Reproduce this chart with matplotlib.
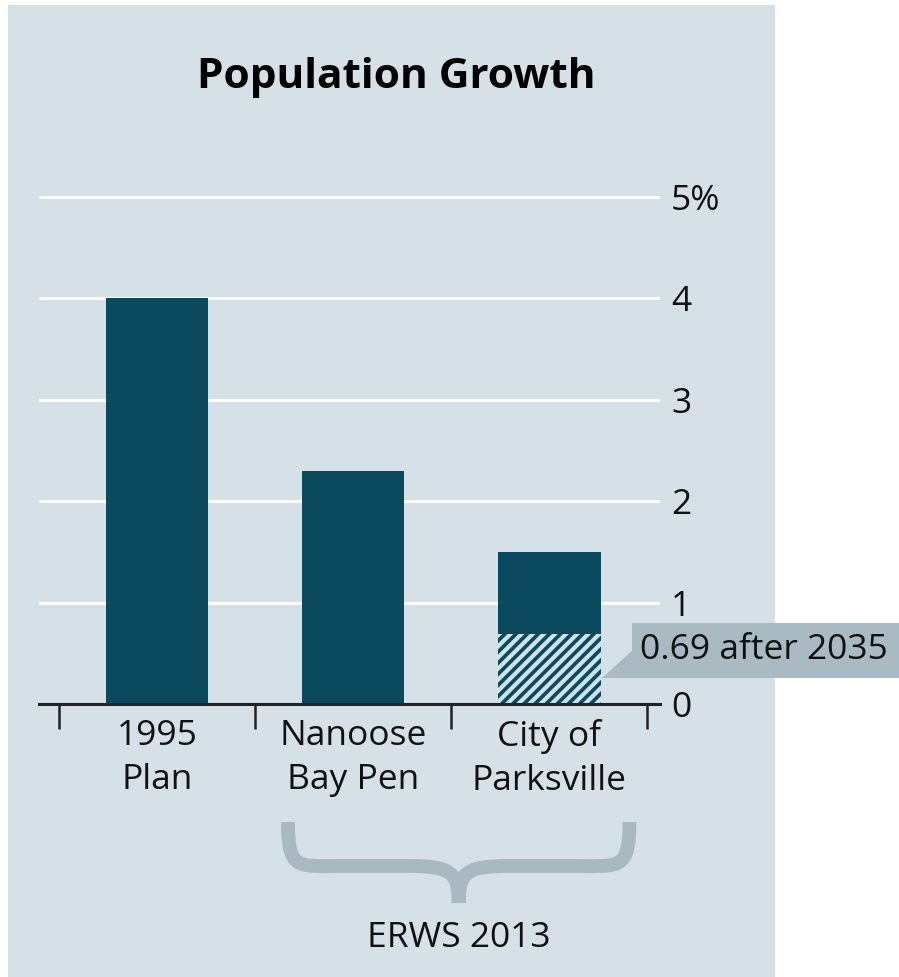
import matplotlib
matplotlib.use("Agg")
import matplotlib.pyplot as plt
from matplotlib.patches import Rectangle, Polygon, PathPatch
from matplotlib.path import Path
from matplotlib.transforms import blended_transform_factory

plt.rcParams['font.family'] = ['Open Sans', 'DejaVu Sans']
plt.rcParams['hatch.linewidth'] = 3.0

# data
categories = ["1995\nPlan", "Nanoose\nBay Pen", "City of\nParksville"]
growth = [4.0, 2.3, 1.5]
after_2035 = [0, 0, 0.69]
y_ticks = [0, 1, 2, 3, 4, 5]
y_labels = ["0", "1", "2", "3", "4", "5%"]
note = "0.69 after 2035"
group_label = "ERWS 2013"

panel = "#d6e1e7"
bar_col = "#0b4a5e"
hatch_col = "#cfe3ec"
brace_col = "#a8b9c2"
txt = "#111111"

W, H = 899, 977
fig = plt.figure(figsize=(W / 100, H / 100), dpi=100)
fig.patch.set_facecolor("white")
fig.patches.append(Rectangle((8 / W, 0), (775 - 8) / W, (H - 5) / H,
                             transform=fig.transFigure, facecolor=panel,
                             edgecolor="none", zorder=-5))

ax = fig.add_axes([39 / W, (H - 704) / H, 621 / W, 512 / H])
ax.set_facecolor("none")
x = list(range(len(categories)))
ax.set_xlim(-0.602, 2.566)
ax.set_ylim(0, 5.05)

# grid
for yv in y_ticks[1:]:
    ax.axhline(yv, color="white", lw=2.2, zorder=1)

solid = [g - a for g, a in zip(growth, after_2035)]
ax.bar(x, solid, bottom=after_2035, width=0.525, color=bar_col, zorder=2)
ax.bar(x, after_2035, width=0.525, facecolor=bar_col, edgecolor=hatch_col,
       hatch="///", linewidth=0, zorder=2)

for s in ["top", "left", "right"]:
    ax.spines[s].set_visible(False)
ax.spines["bottom"].set_linewidth(2.2)
ax.spines["bottom"].set_color("#222222")

ax.set_xticks(x)
ax.set_xticklabels(categories, fontsize=25.5, color=txt, linespacing=1.38)
ax.tick_params(axis="x", which="major", length=0, pad=11)
ax.set_xticks([i - 0.5 for i in range(len(categories) + 1)], minor=True)
ax.tick_params(axis="x", which="minor", length=18, width=1.8, color="#222222",
               direction="out")

ax.yaxis.tick_right()
ax.set_yticks(y_ticks)
ax.set_yticklabels(y_labels, fontsize=25.5, color=txt)
ax.tick_params(axis="y", length=0, pad=8)

fig.text(396 / W, 1 - 78 / H, "Population Growth", fontsize=30.5,
         fontweight="bold", ha="center", va="center", color="black")

# callout
fig.patches.append(Rectangle((632 / W, 1 - 678 / H), (W - 632) / W, 55 / H,
                             transform=fig.transFigure, facecolor="#aabac3",
                             edgecolor="none", zorder=3))
fig.patches.append(Polygon([(633 / W, 1 - 650 / H), (602 / W, 1 - 678 / H),
                            (633 / W, 1 - 678 / H)], closed=True,
                           transform=fig.transFigure, facecolor="#aabac3",
                           edgecolor="none", zorder=3))
fig.text(640 / W, 1 - 650 / H, note, fontsize=25.5, color=txt,
         ha="left", va="center", zorder=4)

# brace under the two ERWS bars
tr = blended_transform_factory(ax.transData, fig.transFigure)
xl, xr = 0.668, 2.41
xm = (xl + xr) / 2
yt, yh, yp = 1 - 822 / H, 1 - 866 / H, 1 - 903 / H
verts = [(xl, yt), (xl, yh - 0.004), (xl + 0.05, yh), (xl + 0.26, yh),
         (xm - 0.26, yh), (xm - 0.04, yh), (xm, yh - 0.006), (xm, yp),
         (xr, yt), (xr, yh - 0.004), (xr - 0.05, yh), (xr - 0.26, yh),
         (xm + 0.26, yh), (xm + 0.04, yh), (xm, yh - 0.006), (xm, yp)]
codes = [Path.MOVETO, Path.CURVE4, Path.CURVE4, Path.CURVE4,
         Path.LINETO, Path.CURVE4, Path.CURVE4, Path.CURVE4] * 2
fig.patches.append(PathPatch(Path(verts, codes), transform=tr, facecolor="none",
                             edgecolor=brace_col, lw=10, capstyle="butt",
                             zorder=2))

fig.text(xm, 1 - 938 / H, group_label, transform=tr, fontsize=25.5,
         color=txt, ha="center", va="center")

fig.savefig("out.png", dpi=100)
